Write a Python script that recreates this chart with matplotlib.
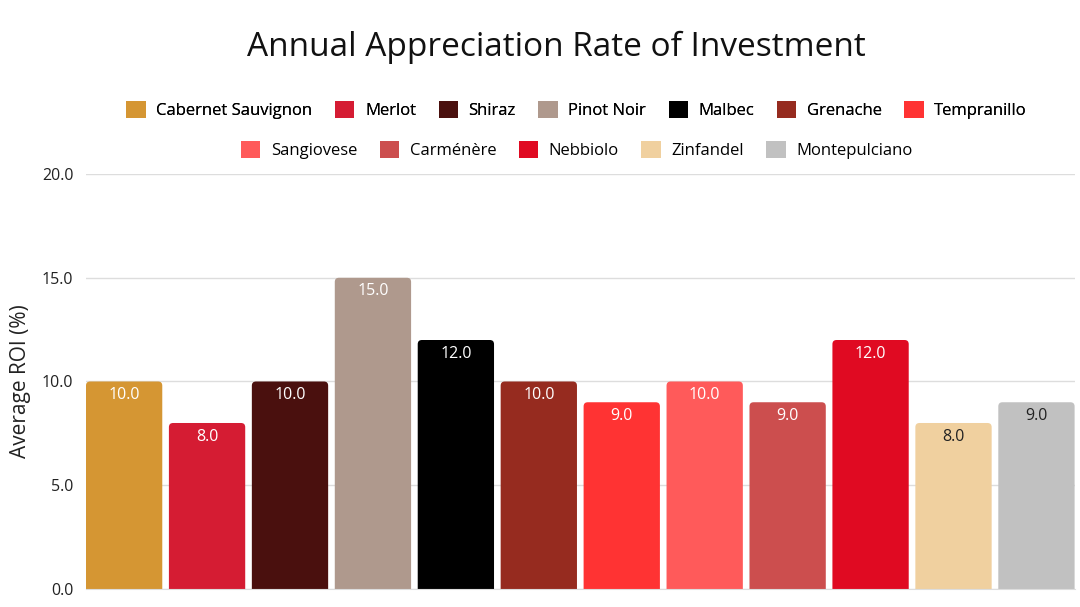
import numpy as np
import matplotlib.pyplot as plt
from matplotlib.patches import Patch, FancyBboxPatch

plt.rcParams['font.family'] = ['Open Sans', 'DejaVu Sans']

wines = ["Cabernet Sauvignon", "Merlot", "Shiraz", "Pinot Noir", "Malbec", "Grenache",
         "Tempranillo", "Sangiovese", "Carménère", "Nebbiolo", "Zinfandel", "Montepulciano"]
roi = [10.0, 8.0, 10.0, 15.0, 12.0, 10.0, 9.0, 10.0, 9.0, 12.0, 8.0, 9.0]
colors = ["#D59633", "#D51C33", "#4A100E", "#AF998D", "#000000", "#962B1F",
          "#FF3333", "#FF5A5A", "#CC4E4E", "#E00A22", "#F0D09F", "#C1C1C1"]
label_colors = ["white"] * 10 + ["#222222", "#222222"]
yticks = [0, 5, 10, 15, 20]

fig = plt.figure(figsize=(10.8, 6.07), dpi=100)
ax = fig.add_axes([0.0796, 0.0297, 0.9154, 0.6836])

x = np.arange(len(wines))
width = 0.92
ax.set_xlim(-0.46, len(wines) - 1 + 0.46)
ax.set_ylim(0, 20)

# rounded tops: bars start below zero so only the top corners show
bars = ax.bar(x, roi, width=width, color=colors, zorder=2)
fig.canvas.draw()
bb = ax.get_window_extent()
aspect = (20 / bb.height) / ((ax.get_xlim()[1] - ax.get_xlim()[0]) / bb.width)
for b, c in zip(bars, colors):
    b.set_visible(False)
    p = FancyBboxPatch((b.get_x(), -1), b.get_width(), b.get_height() + 1,
                       boxstyle="round,pad=0,rounding_size=0.05",
                       mutation_aspect=aspect, facecolor=c, edgecolor="none", zorder=2)
    ax.add_patch(p)

for b, v, c in zip(bars, roi, label_colors):
    ax.annotate("{:.1f}".format(v), (b.get_x() + b.get_width() / 2, v),
                xytext=(0, -4), textcoords="offset points",
                ha="center", va="top", color=c, fontsize=11.5, zorder=3)

ax.set_yticks(yticks)
ax.set_yticklabels(["{:.1f}".format(t) for t in yticks], fontsize=11.5, color="#222222")
ax.set_xticks([])
ax.tick_params(axis="y", length=0, pad=9)
ax.grid(axis="y", color="#DDDDDD", linewidth=1, zorder=0)
for s in ["top", "right", "left"]:
    ax.spines[s].set_visible(False)
ax.spines["bottom"].set_color("#DDDDDD")
ax.set_ylabel("Average ROI (%)", fontsize=15, color="#222222", labelpad=8)

fig.text(0.515, 0.922, "Annual Appreciation Rate of Investment", ha="center", va="center",
         fontsize=24, color="#111111")

handles = [Patch(facecolor=c, edgecolor="none") for c in colors]
leg1 = fig.legend(handles[:7], wines[:7], loc="center", bbox_to_anchor=(0.534, 0.8188),
                  ncol=7, frameon=False, fontsize=12, handlelength=1.15, handleheight=1.15,
                  columnspacing=1.35, handletextpad=0.65)
leg2 = fig.legend(handles[7:], wines[7:], loc="center", bbox_to_anchor=(0.534, 0.7529),
                  ncol=5, frameon=False, fontsize=12, handlelength=1.15, handleheight=1.15,
                  columnspacing=1.35, handletextpad=0.65)
fig.add_artist(leg1)

fig.savefig("out.png", dpi=100, facecolor="white")
